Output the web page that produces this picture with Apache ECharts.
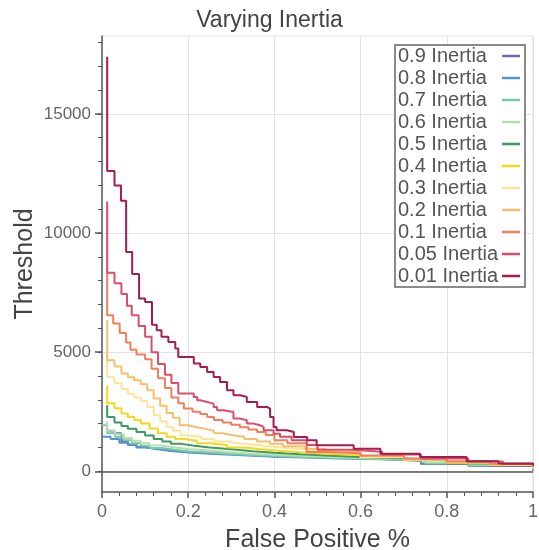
<!DOCTYPE html>
<html>
<head>
<meta charset="utf-8">
<script src="https://cdn.jsdelivr.net/npm/echarts@6/dist/echarts.min.js"></script>
<style>
html,body{margin:0;padding:0;background:#fff;}
#chart{width:539px;height:550px;}
</style>
</head>
<body>
<div id="chart"></div>
<script>
// ---- data (each point: [false positive %, threshold level starting at that x]) ----
const seriesNames = ['0.9 Inertia','0.8 Inertia','0.7 Inertia','0.6 Inertia','0.5 Inertia','0.4 Inertia','0.3 Inertia','0.2 Inertia','0.1 Inertia','0.05 Inertia','0.01 Inertia'];

const inertia090 = [[0.012,1700],[0.028,1600],[0.045,1250],[0.06,1120],[0.08,1020],[0.1,950],[0.13,880],[0.16,820],[0.2,770],[0.25,720],[0.3,670],[0.35,630],[0.4,600],[0.47,560],[0.55,520],[0.65,450],[0.74,320],[0.85,230],[1.0,30]];
const inertia080 = [[0,1450],[0.02,1350],[0.04,1200],[0.06,1100],[0.08,1000],[0.1,920],[0.13,850],[0.16,790],[0.2,740],[0.25,690],[0.3,650],[0.35,610],[0.4,580],[0.47,540],[0.55,500],[0.65,440],[0.74,330],[0.85,240],[1.0,40]];
const inertia070 = [[0,1930],[0.012,1600],[0.03,1450],[0.05,1300],[0.07,1180],[0.09,1070],[0.11,980],[0.14,900],[0.17,840],[0.2,790],[0.25,730],[0.3,680],[0.35,640],[0.4,600],[0.47,560],[0.55,520],[0.65,450],[0.75,350],[0.85,260],[1.0,60]];
const inertia060 = [[0.012,2100],[0.012,1700],[0.03,1550],[0.05,1400],[0.07,1280],[0.09,1180],[0.11,1080],[0.14,1000],[0.17,930],[0.2,870],[0.25,800],[0.3,740],[0.35,690],[0.4,640],[0.47,590],[0.55,540],[0.65,470],[0.75,380],[0.85,270],[1.0,70]];
const inertia050 = [[0.012,2770],[0.012,2280],[0.029,2050],[0.045,1900],[0.06,1780],[0.08,1650],[0.1,1500],[0.12,1350],[0.14,1250],[0.16,1150],[0.185,1080],[0.21,1000],[0.25,920],[0.3,840],[0.35,780],[0.4,715],[0.46,660],[0.52,600],[0.6,540],[0.7,460],[0.8,330],[0.9,240],[1.0,90]];
const inertia040 = [[0.012,3610],[0.012,2850],[0.029,2650],[0.045,2420],[0.06,2280],[0.075,2150],[0.09,2000],[0.11,1800],[0.13,1600],[0.15,1450],[0.17,1350],[0.19,1280],[0.22,1180],[0.25,1100],[0.29,1000],[0.33,920],[0.37,860],[0.41,800],[0.46,740],[0.52,680],[0.6,590],[0.7,480],[0.8,360],[0.9,260],[1.0,110]];
const inertia030 = [[0.012,5000],[0.012,3950],[0.029,3700],[0.045,3450],[0.06,3250],[0.075,3100],[0.09,2950],[0.105,2700],[0.12,2350],[0.135,2100],[0.15,1850],[0.165,1700],[0.182,1510],[0.2,1450],[0.23,1350],[0.26,1250],[0.29,1170],[0.32,1100],[0.36,1020],[0.4,960],[0.45,880],[0.5,800],[0.6,600],[0.7,500],[0.8,380],[0.9,280],[1.0,130]];
const inertia020 = [[0.012,6350],[0.012,4660],[0.029,4400],[0.045,4100],[0.06,3950],[0.075,3820],[0.09,3650],[0.105,3400],[0.12,3050],[0.135,2750],[0.15,2450],[0.165,2250],[0.18,1930],[0.2,1850],[0.22,1780],[0.24,1700],[0.26,1600],[0.28,1520],[0.3,1450],[0.33,1350],[0.36,1250],[0.39,1150],[0.42,1050],[0.47,950],[0.52,820],[0.6,640],[0.7,510],[0.8,390],[0.9,290],[1.0,150]];
const inertia010 = [[0.012,8400],[0.012,6550],[0.026,6200],[0.041,5800],[0.056,5400],[0.066,5100],[0.08,4900],[0.1,4700],[0.115,4300],[0.13,3900],[0.146,3500],[0.161,3100],[0.177,2850],[0.19,2635],[0.21,2500],[0.228,2400],[0.244,2280],[0.26,2150],[0.28,2050],[0.3,1950],[0.32,1850],[0.34,1750],[0.36,1650],[0.38,1520],[0.4,1300],[0.43,1180],[0.475,810],[0.52,760],[0.6,660],[0.7,540],[0.8,420],[0.9,320],[1.0,190]];
const inertia005 = [[0.012,11320],[0.012,8330],[0.029,7890],[0.045,7440],[0.058,6950],[0.069,6550],[0.085,6100],[0.1,5650],[0.115,5000],[0.13,4500],[0.146,4050],[0.161,3700],[0.177,3265],[0.213,3120],[0.221,2980],[0.228,2910],[0.244,2840],[0.259,2700],[0.267,2560],[0.282,2490],[0.305,2210],[0.321,2140],[0.336,2000],[0.352,1930],[0.367,1860],[0.375,1720],[0.398,1580],[0.413,1450],[0.44,1300],[0.475,1100],[0.5,900],[0.58,820],[0.65,700],[0.74,540],[0.85,410],[0.93,310],[1.0,220]];
const inertia001 = [[0.012,17400],[0.012,12600],[0.029,12000],[0.044,11350],[0.056,9200],[0.070,8280],[0.086,7250],[0.100,7100],[0.116,6150],[0.127,5920],[0.138,5650],[0.154,5430],[0.170,5150],[0.177,4800],[0.213,4520],[0.228,4380],[0.244,4170],[0.259,3960],[0.274,3750],[0.290,3400],[0.305,3190],[0.321,3120],[0.336,2910],[0.360,2700],[0.383,2630],[0.390,2280],[0.398,1860],[0.405,1720],[0.429,1650],[0.445,1440],[0.476,1300],[0.498,1090],[0.584,950],[0.646,740],[0.738,600],[0.846,420],[0.92,330],[1.0,250]];

const seriesData = [inertia090, inertia080, inertia070, inertia060, inertia050, inertia040, inertia030, inertia020, inertia010, inertia005, inertia001];

const xTickValues = [0, 0.2, 0.4, 0.6, 0.8, 1];
const yLabelValues = [0, 5000, 10000, 15000];
const yMinorTickValues = [0,1000,2000,3000,4000,5000,6000,7000,8000,9000,10000,11000,12000,13000,14000,15000,16000,17000,18000];
const yRange = [-870, 18270];

// ---- styles ----
const colors = ['#7066ad','#5596cf','#78c9ab','#b5dfae','#3d9a5e','#f5d81e','#fde49a','#f9bd6e','#f47e5c','#dc4d69','#a51c50'];
const FONT = '"Liberation Sans", Arial, Helvetica, sans-serif';

const chart = echarts.init(document.getElementById('chart'), null, {renderer: 'canvas'});

const series = seriesNames.map((name, i) => ({
  name: name,
  type: 'line',
  step: 'end',
  data: seriesData[i],
  showSymbol: false,
  symbol: 'none',
  lineStyle: {width: 2, color: colors[i]},
  itemStyle: {color: colors[i]},
  z: 3 + i,
  animation: false
}));

series[0].markLine = {
  silent: true,
  symbol: 'none',
  label: {show: false},
  lineStyle: {color: '#555', width: 1.5, type: 'solid'},
  data: [{yAxis: 0}],
  animation: false
};

chart.setOption({
  animation: false,
  backgroundColor: '#fff',
  textStyle: {fontFamily: FONT},
  title: {
    text: 'Varying Inertia',
    left: 'center',
    top: 4,
    textStyle: {fontFamily: FONT, fontSize: 23, fontWeight: 'normal', color: '#444'}
  },
  legend: {
    orient: 'vertical',
    right: 14,
    top: 45,
    align: 'right',
    itemGap: 2,
    itemWidth: 18,
    itemHeight: 2.5,
    icon: 'rect',
    padding: [1, 5, 1, 3],
    backgroundColor: '#fff',
    borderColor: '#666',
    borderWidth: 1.5,
    borderRadius: 0,
    data: seriesNames,
    formatter: name => '{a|' + name + '}',
    textStyle: {
      fontFamily: FONT, fontSize: 20, color: '#555',
      rich: {a: {fontFamily: FONT, fontSize: 20, color: '#555', width: 99, align: 'left', lineHeight: 20}}
    }
  },
  grid: {
    left: 102,
    right: 6,
    top: 36,
    bottom: 58,
    outerBoundsMode: 'none',
    containLabel: false,
    show: true,
    borderColor: '#e3e3e3',
    borderWidth: 1
  },
  xAxis: {
    type: 'value',
    min: 0,
    max: 1,
    interval: 0.2,
    name: 'False Positive %',
    nameLocation: 'middle',
    nameGap: 36,
    nameMoveOverlap: false,
    nameTextStyle: {fontFamily: FONT, fontSize: 25, color: '#444', verticalAlign: 'top'},
    axisLine: {show: true, onZero: false, lineStyle: {color: '#555', width: 1.5}},
    axisTick: {show: true, length: 6, lineStyle: {color: '#555', width: 1.5}},
    minorTick: {show: true, splitNumber: 5, length: 4, lineStyle: {color: '#555', width: 1}},
    axisLabel: {fontFamily: FONT, fontSize: 18, color: '#666', margin: 11,
      customValues: xTickValues,
      formatter: v => String(+v.toFixed(2))},
    splitLine: {show: true, lineStyle: {color: '#e3e3e3', width: 1}}
  },
  yAxis: [{
    type: 'value',
    min: yRange[0],
    max: yRange[1],
    splitNumber: 4,
    name: 'Threshold',
    nameLocation: 'middle',
    nameGap: 64,
    nameMoveOverlap: false,
    nameRotate: 90,
    nameTextStyle: {fontFamily: FONT, fontSize: 25, color: '#444'},
    axisLine: {show: true, onZero: false, lineStyle: {color: '#4f5f5f', width: 1.5}},
    axisTick: {show: true, length: 7, customValues: yLabelValues, lineStyle: {color: '#555', width: 1.5}},
    axisLabel: {fontFamily: FONT, fontSize: 17, color: '#666', margin: 11,
      customValues: yLabelValues,
      formatter: v => String(Math.round(v))},
    splitLine: {show: true, lineStyle: {color: '#e3e3e3', width: 1}}
  }, {
    type: 'value',
    min: yRange[0],
    max: yRange[1],
    position: 'left',
    axisLine: {show: false},
    axisTick: {show: true, length: 4, customValues: yMinorTickValues, lineStyle: {color: '#555', width: 1}},
    axisLabel: {show: false},
    splitLine: {show: false}
  }],
  series: series
});
</script>
</body>
</html>
